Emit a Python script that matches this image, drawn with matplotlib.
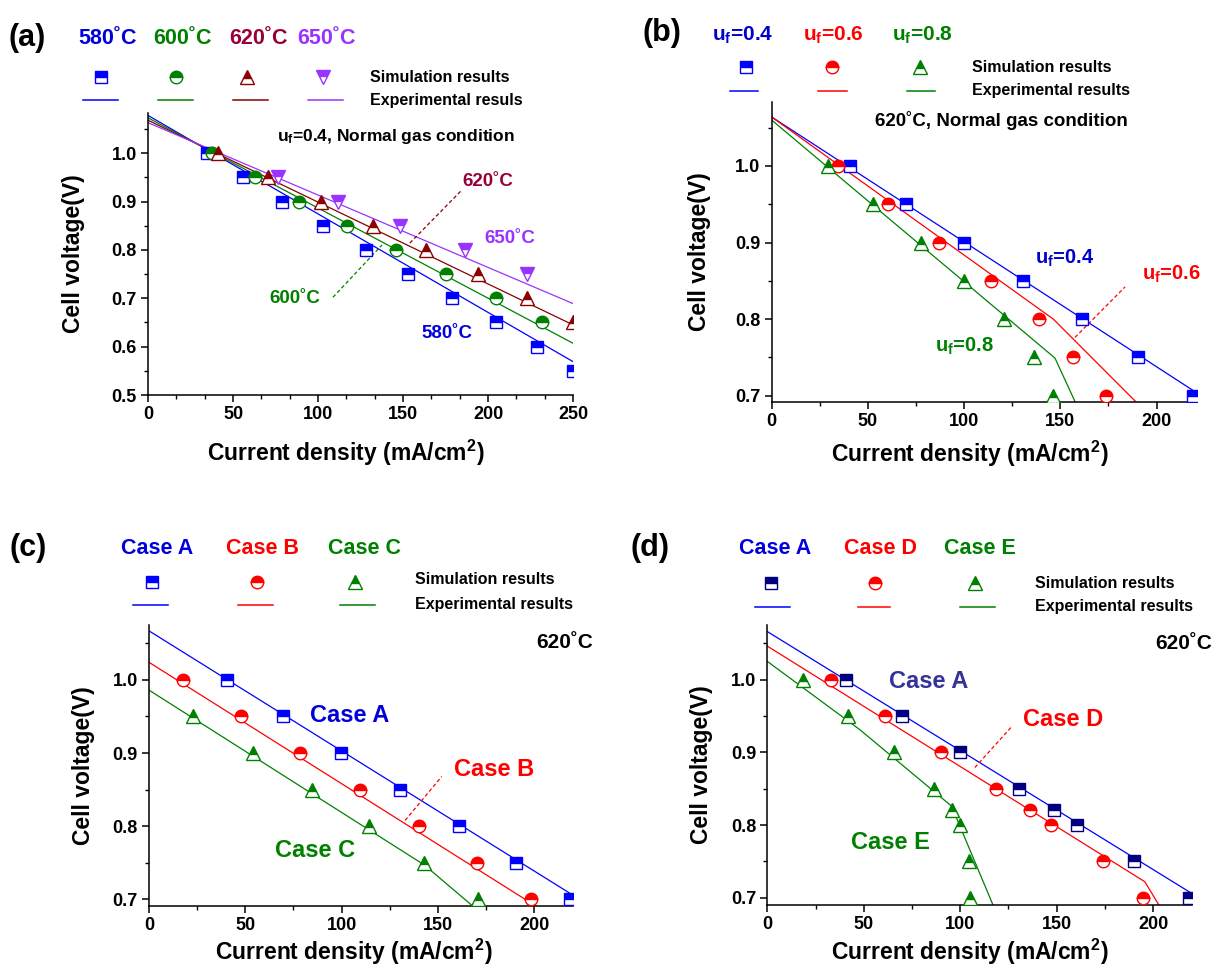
import matplotlib
matplotlib.use("Agg")
import matplotlib.pyplot as plt
from matplotlib.lines import Line2D
from matplotlib.ticker import MultipleLocator

plt.rcParams["font.family"] = ["Liberation Sans", "DejaVu Sans"]
plt.rcParams["font.weight"] = "bold"
plt.rcParams["mathtext.fontset"] = "custom"
plt.rcParams["mathtext.rm"] = "Liberation Sans:bold"
plt.rcParams["mathtext.it"] = "Liberation Sans:bold"
plt.rcParams["mathtext.bf"] = "Liberation Sans:bold"

# ---- panel (a): temperature ----
a_labels = ["580˚C", "600˚C", "620˚C", "650˚C"]
a_sim_x = [
    [34.5, 56, 79, 102.7, 128, 153, 179, 204.7, 229, 250],
    [37.5, 63, 89, 117, 146, 175, 204.7, 232],
    [41, 70.4, 102, 132.5, 163.5, 194, 223, 250],
    [76.7, 112, 148, 186.5, 223],
]
a_sim_y = [
    [1.00, 0.95, 0.90, 0.85, 0.80, 0.75, 0.70, 0.65, 0.60, 0.55],
    [1.00, 0.95, 0.90, 0.85, 0.80, 0.75, 0.70, 0.65],
    [1.00, 0.95, 0.90, 0.85, 0.80, 0.75, 0.70, 0.65],
    [0.95, 0.90, 0.85, 0.80, 0.75],
]
a_exp_x = [[0, 250], [0, 250], [0, 250], [0, 250]]
a_exp_y = [[1.078, 0.569], [1.073, 0.607], [1.068, 0.645], [1.063, 0.689]]

# ---- panel (b): fuel utilisation ----
b_labels = ["u$_{f}$=0.4", "u$_{f}$=0.6", "u$_{f}$=0.8"]
b_sim_x = [
    [40.7, 69.6, 100, 130.7, 161, 190.5, 218.7],
    [34.3, 60.3, 87, 114, 139, 156.7, 173.7],
    [29.4, 52.8, 77.4, 100, 120.8, 136.4, 146.3],
]
b_sim_y = [[1.00, 0.95, 0.90, 0.85, 0.80, 0.75, 0.70]] * 3
b_exp_x = [[0, 220], [0, 146.3, 190], [0, 147.2, 158]]
b_exp_y = [[1.064, 0.705], [1.064, 0.80, 0.69], [1.06, 0.749, 0.69]]

# ---- panel (c): cases A, B, C ----
c_labels = ["Case A", "Case B", "Case C"]
c_sim_x = [
    [40.7, 69.8, 99.7, 130.4, 161, 190.5, 218.7],
    [17.8, 47.6, 78.4, 109.3, 140.4, 170.2, 198.4],
    [23, 54.2, 84.5, 114.3, 143, 170.7],
]
c_sim_y = [
    [1.00, 0.95, 0.90, 0.85, 0.80, 0.75, 0.70],
    [1.00, 0.95, 0.90, 0.85, 0.80, 0.75, 0.70],
    [0.95, 0.90, 0.85, 0.80, 0.75, 0.70],
]
c_exp_x = [[0, 220], [0, 201.4], [0, 143, 168.5]]
c_exp_y = [[1.067, 0.706], [1.024, 0.69], [0.986, 0.747, 0.69]]

# ---- panel (d): cases A, D, E ----
d_labels = ["Case A", "Case D", "Case E"]
d_sim_x = [
    [40.8, 69.6, 99.8, 130.4, 148.5, 160.8, 190.2, 218.5],
    [32.8, 61, 89.8, 118.8, 136.1, 147.3, 174.1, 194.5],
    [18.7, 42, 65.6, 86.4, 95.5, 99.8, 104.5, 105],
]
d_sim_y = [[1.00, 0.95, 0.90, 0.85, 0.82, 0.80, 0.75, 0.70]] * 3
d_exp_x = [[0, 220], [0, 195.7, 203], [0, 48, 95.5, 117]]
d_exp_y = [[1.066, 0.706], [1.046, 0.722, 0.69], [1.025, 0.931, 0.826, 0.69]]

W, H = 1230, 967
fig = plt.figure(figsize=(W / 100, H / 100), dpi=100)


def fx(px):
    return px / W


def fy(py):
    return 1 - py / H


def make_axes(left, right, top, bottom):
    return fig.add_axes([fx(left), fy(bottom), (right - left) / W, (bottom - top) / H])


def style_axes(ax, xlim, ylim, xminor, ylab_x, xlab_x, xlab_y):
    ax.set_xlim(*xlim)
    ax.set_ylim(*ylim)
    for s in ["top", "right"]:
        ax.spines[s].set_visible(False)
    for s in ["left", "bottom"]:
        ax.spines[s].set_linewidth(1.1)
    ax.xaxis.set_major_locator(MultipleLocator(50))
    ax.xaxis.set_minor_locator(MultipleLocator(xminor))
    ax.yaxis.set_major_locator(MultipleLocator(0.1))
    ax.yaxis.set_minor_locator(MultipleLocator(0.05))
    ax.yaxis.set_major_formatter(matplotlib.ticker.FormatStrFormatter("%.1f"))
    ax.tick_params(which="major", direction="out", length=5, width=1.1,
                   labelsize=13, pad=3)
    ax.tick_params(which="minor", direction="out", length=3, width=1)
    ax.set_ylabel("Cell voltage(V)", fontsize=16.5, fontweight="bold")
    ax.set_xlabel("Current density (mA/cm$^{2}$)", fontsize=16.5, fontweight="bold")
    ax.yaxis.set_label_coords(ylab_x, 0.5)
    ax.xaxis.set_label_coords(xlab_x, xlab_y)


def draw_series(ax, xs, ys, ex, ey, colors, mcolors, markers, msizes):
    for i in range(len(xs)):
        ax.plot(ex[i], ey[i], color=colors[i], lw=0.9, zorder=2)
    for i in range(len(xs)):
        ax.plot(xs[i], ys[i], ls="none", marker=markers[i], ms=msizes[i],
                fillstyle="top", markerfacecolor=mcolors[i],
                markerfacecoloralt="white", markeredgecolor=mcolors[i],
                markeredgewidth=1.0, zorder=3)


def legend_block(titles, tcolors, tsize, title_xy, mark_xy, line_xy, mcolors,
                 lcolors, markers, msizes, text_x, text_y, texts):
    for t, c, (x, y) in zip(titles, tcolors, title_xy):
        fig.text(fx(x), fy(y), t, color=c, fontsize=tsize, fontweight="bold",
                 ha="center", va="center")
    for (x, y), c, m, s in zip(mark_xy, mcolors, markers, msizes):
        fig.add_artist(Line2D([fx(x)], [fy(y)], marker=m, ms=s, fillstyle="top",
                              markerfacecolor=c, markerfacecoloralt="white",
                              markeredgecolor=c, markeredgewidth=1.0))
    for (x0, x1, y), c in zip(line_xy, lcolors):
        fig.add_artist(Line2D([fx(x0), fx(x1)], [fy(y), fy(y)], color=c, lw=1.1))
    for t, y in zip(texts, text_y):
        fig.text(fx(text_x), fy(y), t, fontsize=11.5, fontweight="bold",
                 ha="left", va="center")


def dashed(ax, xs, ys, color):
    ax.plot(xs, ys, color=color, lw=0.9, ls=(0, (3, 2)))


BLUE, GREEN, RED = "#0000ff", "#008000", "#ff0000"
DRED, PURPLE, NAVY = "#8b0000", "#9933ff", "#000080"
MS = [8, 9, 10, 10]

# ---------------- (a) ----------------
ax = make_axes(148, 573, 113, 395)
a_col = [BLUE, GREEN, DRED, PURPLE]
draw_series(ax, a_sim_x, a_sim_y, a_exp_x, a_exp_y, a_col, a_col,
            ["s", "o", "^", "v"], MS)
style_axes(ax, (0, 250), (0.5, 1.083), 50 / 3, -0.148, 0.466, -0.152)
ax.text(200, 0.941, "620˚C", color="#99003a", fontsize=13.5, ha="center", va="center")
dashed(ax, [154, 184.7], [0.814, 0.924], DRED)
ax.text(213, 0.824, "650˚C", color=PURPLE, fontsize=13.5, ha="center", va="center")
ax.text(86.5, 0.70, "600˚C", color=GREEN, fontsize=13.5, ha="center", va="center")
dashed(ax, [108.8, 137.6], [0.702, 0.81], GREEN)
ax.text(175.7, 0.627, "580˚C", color="#0000dd", fontsize=13.5, ha="center", va="center")
fig.text(fx(27), fy(38), "(a)", fontsize=22, fontweight="bold", ha="center", va="center")
legend_block(a_labels, ["#0000dd", GREEN, "#99003a", PURPLE], 15.5,
             [(108, 38), (183, 38), (258, 38), (327, 38)],
             [(101, 77), (176, 77), (247, 77), (323, 77)],
             [(83, 118, 100), (158, 193, 100), (233, 268, 100), (308, 343, 100)],
             a_col, a_col, ["s", "o", "^", "v"], MS,
             370, [77, 100], ["Simulation results", "Experimental resuls"])
fig.text(fx(277), fy(137), "u$_{f}$=0.4, Normal gas condition", fontsize=12.5,
         fontweight="bold", ha="left", va="center")

# ---------------- (b) ----------------
ax = make_axes(771.7, 1197, 101.7, 401.7)
b_col = [BLUE, RED, GREEN]
draw_series(ax, b_sim_x, b_sim_y, b_exp_x, b_exp_y, b_col, b_col,
            ["s", "o", "^"], MS)
style_axes(ax, (0, 221), (0.692, 1.084), 25, -0.143, 0.466, -0.124)
ax.text(152.4, 0.879, "u$_{f}$=0.4", color="#0000cc", fontsize=14.5, ha="center", va="center")
ax.text(207.8, 0.859, "u$_{f}$=0.6", color=RED, fontsize=14.5, ha="center", va="center")
dashed(ax, [157.6, 183.6], [0.776, 0.842], RED)
ax.text(100.4, 0.764, "u$_{f}$=0.8", color=GREEN, fontsize=14.5, ha="center", va="center")
fig.text(fx(662), fy(33), "(b)", fontsize=22, fontweight="bold", ha="center", va="center")
legend_block(b_labels, ["#0000cc", RED, GREEN], 15,
             [(743, 35), (833, 35), (922, 35)],
             [(746, 67), (832, 67), (920, 67)],
             [(730, 758, 91), (818, 847, 91), (907, 935, 91)],
             b_col, b_col, ["s", "o", "^"], MS,
             972, [67, 90], ["Simulation results", "Experimental results"])
fig.text(fx(875), fy(120), "620˚C, Normal gas condition", fontsize=13.5,
         fontweight="bold", ha="left", va="center")

# ---------------- (c) ----------------
ax = make_axes(149, 572.7, 625, 906)
c_col = [BLUE, RED, GREEN]
draw_series(ax, c_sim_x, c_sim_y, c_exp_x, c_exp_y, c_col, c_col,
            ["s", "o", "^"], MS)
style_axes(ax, (0, 220), (0.691, 1.075), 25, -0.127, 0.484, -0.110)
ax.text(104.4, 0.951, "Case A", color="#0000dd", fontsize=17, ha="center", va="center")
ax.text(179.2, 0.877, "Case B", color=RED, fontsize=17, ha="center", va="center")
dashed(ax, [133, 152], [0.808, 0.868], RED)
ax.text(86.2, 0.767, "Case C", color=GREEN, fontsize=17, ha="center", va="center")
ax.text(1.048, 0.936, "620˚C", transform=ax.transAxes, fontsize=15, ha="right", va="center")
fig.text(fx(28), fy(548), "(c)", fontsize=22, fontweight="bold", ha="center", va="center")
legend_block(c_labels, ["#0000dd", RED, GREEN], 15.5,
             [(157, 549), (262, 549), (365, 549)],
             [(152, 582), (257, 582), (355, 582)],
             [(133, 168, 605), (238, 273, 605), (340, 375, 605)],
             c_col, c_col, ["s", "o", "^"], MS,
             415, [580, 605], ["Simulation results", "Experimental results"])

# ---------------- (d) ----------------
ax = make_axes(767.3, 1191.7, 625, 905)
d_col = [BLUE, RED, GREEN]
d_mcol = [NAVY, RED, GREEN]
draw_series(ax, d_sim_x, d_sim_y, d_exp_x, d_exp_y, d_col, d_mcol,
            ["s", "o", "^"], MS)
style_axes(ax, (0, 220), (0.69, 1.075), 25, -0.128, 0.478, -0.114)
ax.text(83.4, 0.997, "Case A", color="#333399", fontsize=17, ha="center", va="center")
ax.text(153.4, 0.945, "Case D", color=RED, fontsize=17, ha="center", va="center")
dashed(ax, [107.6, 126.6], [0.879, 0.935], RED)
ax.text(63.6, 0.776, "Case E", color=GREEN, fontsize=17, ha="center", va="center")
ax.text(1.047, 0.935, "620˚C", transform=ax.transAxes, fontsize=15, ha="right", va="center")
fig.text(fx(650), fy(548), "(d)", fontsize=22, fontweight="bold", ha="center", va="center")
legend_block(d_labels, ["#0000dd", RED, GREEN], 15.5,
             [(775, 549), (880, 549), (980, 549)],
             [(771, 583), (875, 583), (975, 583)],
             [(755, 790, 607), (858, 890, 607), (960, 995, 607)],
             d_mcol, d_col, ["s", "o", "^"], MS,
             1035, [583, 607], ["Simulation results", "Experimental results"])

fig.savefig("out.png", dpi=100)
